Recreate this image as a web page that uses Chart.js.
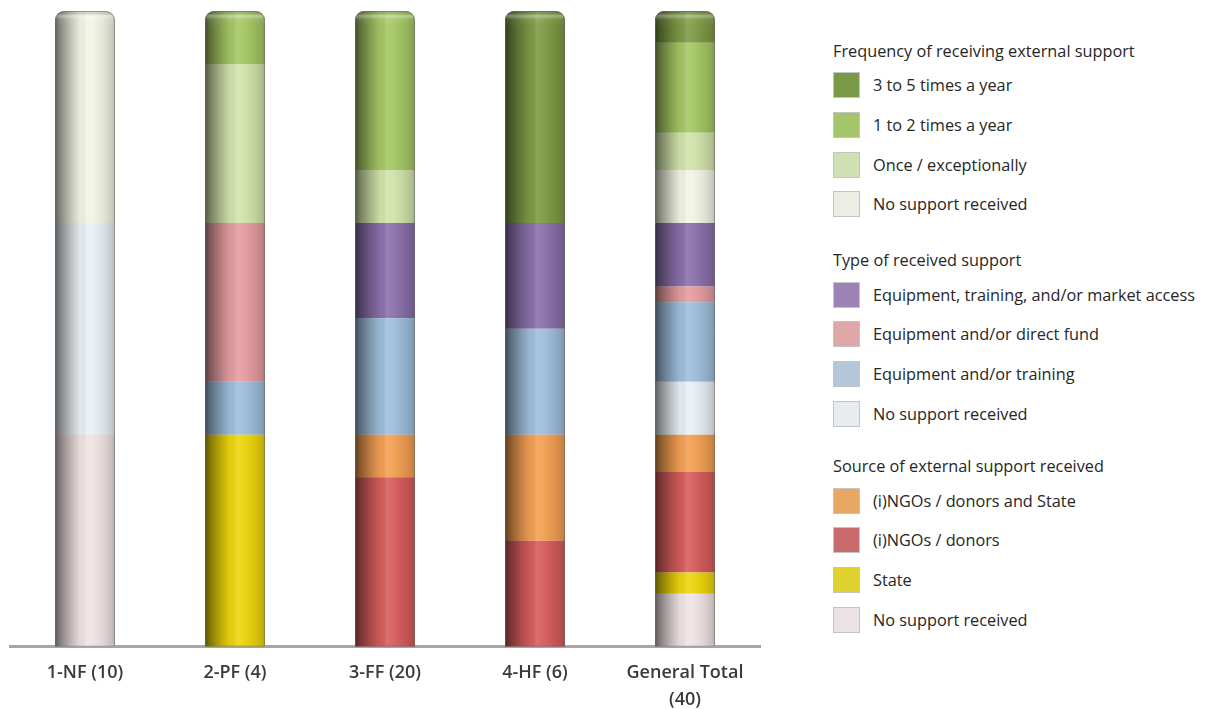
<!DOCTYPE html>
<html>
<head>
<meta charset="utf-8">
<script src="https://cdn.jsdelivr.net/npm/chart.js@4.4.1/dist/chart.umd.min.js"></script>
<style>
html,body{margin:0;padding:0;background:#fff;overflow:hidden;width:1206px;height:709px;}
#wrap{position:absolute;left:0;top:0;width:770px;height:730px;}
#legend{position:absolute;left:833px;top:0;font-family:'Open Sans',sans-serif;font-size:16.3px;color:#262626;}
.lg-h{position:absolute;left:0;white-space:nowrap;line-height:20px;}
.lg-i{position:absolute;left:0;white-space:nowrap;height:26px;}
.lg-box{position:absolute;left:0;top:0;width:27px;height:26px;box-sizing:border-box;border:1px solid #c4c4c4;}
.lg-t{position:absolute;left:40px;top:3px;line-height:20px;}
</style>
</head>
<body>
<div id="wrap"><canvas id="c" width="770" height="730"></canvas></div>
<div id="legend"></div>
<script>
// ---- Data (percent of each of the three stacked groups) ----
const categories = ['1-NF (10)', '2-PF (4)', '3-FF (20)', '4-HF (6)', ['General Total', '(40)']];

// Source of external support received (bottom third)
const srcNone  = [100, 0,   0,  0, 25];
const srcState = [0,   100, 0,  0, 10];
const srcNgo   = [0,   0,   80, 50, 47.5];
const srcBoth  = [0,   0,   20, 50, 17.5];

// Type of received support (middle third)
const typeNone     = [100, 0,  0,  0,  25];
const typeTraining = [0,   25, 55, 50, 37.5];
const typeFund     = [0,   75, 0,  0,  7.5];
const typeMarket   = [0,   0,  45, 50, 30];

// Frequency of receiving external support (top third)
const freqNone = [100, 0,  0,  0,   25];
const freqOnce = [0,   75, 25, 0,   17.5];
const freq12   = [0,   25, 75, 0,   42.5];
const freq35   = [0,   0,  0,  100, 15];

const groupTitles = ['Frequency of receiving external support', 'Type of received support', 'Source of external support received'];

// ---- Series definitions (bottom-to-top stacking order) ----
const series = [
  {label: 'No support received', data: srcNone,  bar: '#efe2e2', key: '#ebe3e3', group: 2},
  {label: 'State',               data: srcState, bar: '#ecd40c', key: '#dfd22f', group: 2},
  {label: '(i)NGOs / donors',    data: srcNgo,   bar: '#d65c5c', key: '#c96b6a', group: 2},
  {label: '(i)NGOs / donors and State', data: srcBoth, bar: '#f39f52', key: '#e9a862', group: 2},
  {label: 'No support received', data: typeNone, bar: '#e8eef2', key: '#e9ecee', group: 1},
  {label: 'Equipment and/or training', data: typeTraining, bar: '#9ebedb', key: '#b3c7d9', group: 1},
  {label: 'Equipment and/or direct fund', data: typeFund, bar: '#e49c9f', key: '#dfa7a7', group: 1},
  {label: 'Equipment, training, and/or market access', data: typeMarket, bar: '#8a70ab', key: '#9d82b6', group: 1},
  {label: 'No support received', data: freqNone, bar: '#f1f4e4', key: '#ebeee4', group: 0},
  {label: 'Once / exceptionally', data: freqOnce, bar: '#d2e3aa', key: '#cfe0b2', group: 0},
  {label: '1 to 2 times a year', data: freq12, bar: '#a4c763', key: '#a5c56b', group: 0},
  {label: '3 to 5 times a year', data: freq35, bar: '#7d9a44', key: '#7a9a48', group: 0}
];

// ---- cylinder shading plugin ----
const cylinder = {
  id: 'cylinder',
  afterDatasetsDraw(chart) {
    const ctx = chart.ctx;
    const metas = chart.getSortedVisibleDatasetMetas();
    const n = chart.data.labels.length;
    for (let i = 0; i < n; i++) {
      let top = Infinity, bottom = -Infinity, x = 0, w = 0;
      metas.forEach(m => {
        const el = m.data[i];
        const v = chart.data.datasets[m.index].data[i];
        x = el.x; w = el.width;
        if (v > 0) {
          top = Math.min(top, el.y);
          bottom = Math.max(bottom, el.base);
        }
      });
      if (!isFinite(top)) continue;
      const left = x - w / 2, h = bottom - top, r = 9;
      ctx.save();
      ctx.beginPath();
      ctx.roundRect(left, top, w, h, [r, r, 0, 0]);
      ctx.clip();
      const g = ctx.createLinearGradient(left, 0, left + w, 0);
      g.addColorStop(0, 'rgba(0,0,0,0.62)');
      g.addColorStop(0.08, 'rgba(0,0,0,0.45)');
      g.addColorStop(0.25, 'rgba(0,0,0,0.22)');
      g.addColorStop(0.42, 'rgba(0,0,0,0.03)');
      g.addColorStop(0.53, 'rgba(255,255,255,0.12)');
      g.addColorStop(0.63, 'rgba(255,255,255,0.06)');
      g.addColorStop(0.8, 'rgba(0,0,0,0.06)');
      g.addColorStop(0.95, 'rgba(0,0,0,0.16)');
      g.addColorStop(1, 'rgba(0,0,0,0.25)');
      ctx.fillStyle = g;
      ctx.fillRect(left, top, w, h);
      const gv = ctx.createLinearGradient(0, top, 0, top + 16);
      gv.addColorStop(0, 'rgba(0,0,0,0.12)');
      gv.addColorStop(0.3, 'rgba(255,255,255,0.35)');
      gv.addColorStop(0.55, 'rgba(255,255,255,0.05)');
      gv.addColorStop(1, 'rgba(255,255,255,0)');
      ctx.fillStyle = gv;
      ctx.fillRect(left, top, w, 16);
      ctx.restore();
      ctx.save();
      ctx.beginPath();
      ctx.roundRect(left + 0.5, top + 0.5, w - 1, h - 1, [r, r, 0, 0]);
      ctx.strokeStyle = 'rgba(110,110,110,0.55)';
      ctx.lineWidth = 1;
      ctx.stroke();
      ctx.restore();
    }
  }
};

new Chart(document.getElementById('c'), {
  type: 'bar',
  data: {
    labels: categories,
    datasets: series.map(s => ({
      label: s.label,
      data: s.data,
      backgroundColor: s.bar,
      borderWidth: 0,
      borderRadius: 9,
      borderSkipped: 'start',
      barPercentage: 0.4,
      categoryPercentage: 1
    }))
  },
  options: {
    responsive: false,
    devicePixelRatio: 1,
    animation: false,
    layout: {padding: {left: 10, right: 10, top: 11, bottom: 4}},
    scales: {
      x: {
        stacked: true,
        grid: {display: false, drawTicks: false},
        border: {display: true, color: '#a6a6a6', width: 3},
        ticks: {
          padding: 13,
          color: '#3a3a3a',
          font: {family: "'Open Sans', sans-serif", size: 18, weight: '600', lineHeight: 1.48}
        }
      },
      y: {stacked: true, min: 0, max: 300, display: false}
    },
    plugins: {legend: {display: false}, tooltip: {enabled: true}}
  },
  plugins: [cylinder]
});

// ---- HTML legend (grouped) ----
const legend = document.getElementById('legend');
const headCenters = [50.7, 260, 466];
const firstOffset = 34.5, step = 39.7;
[0, 1, 2].forEach(gi => {
  const h = document.createElement('div');
  h.className = 'lg-h';
  h.textContent = groupTitles[gi];
  h.style.top = (headCenters[gi] - 10) + 'px';
  legend.appendChild(h);
  const items = series.filter(s => s.group === gi).reverse();
  items.forEach((s, k) => {
    const it = document.createElement('div');
    it.className = 'lg-i';
    it.style.top = (headCenters[gi] + firstOffset + step * k - 13) + 'px';
    const b = document.createElement('div');
    b.className = 'lg-box';
    b.style.background = s.key;
    const t = document.createElement('div');
    t.className = 'lg-t';
    t.textContent = s.label;
    it.appendChild(b); it.appendChild(t);
    legend.appendChild(it);
  });
});
</script>
</body>
</html>
